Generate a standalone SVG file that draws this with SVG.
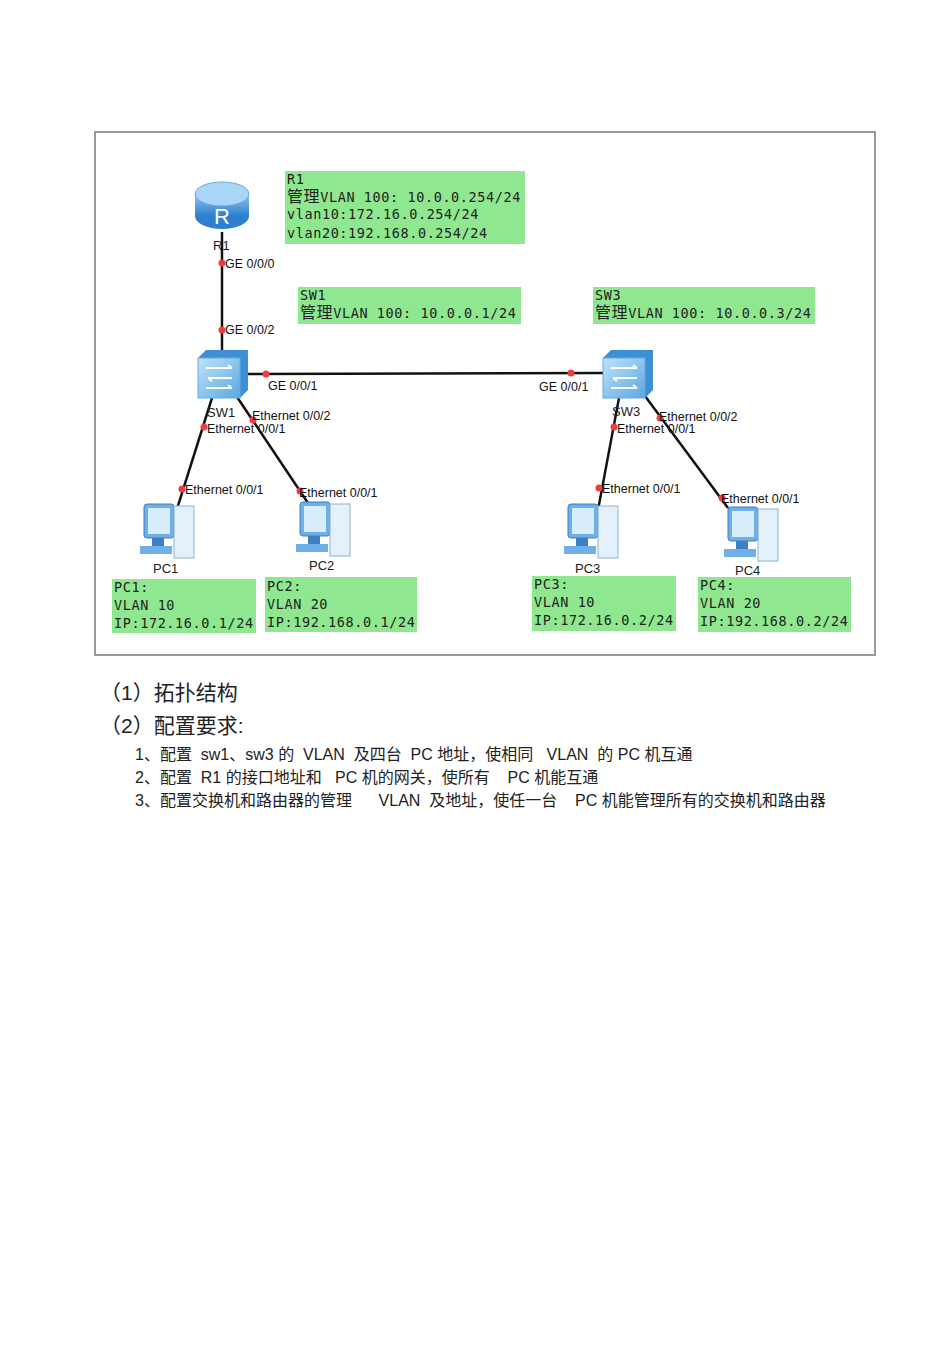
<svg xmlns="http://www.w3.org/2000/svg" width="950" height="1345" viewBox="0 0 950 1345">
<defs>
<style>
.box{fill:#8fe88f}
.m{font-family:"DejaVu Sans Mono","Noto Sans CJK SC",monospace;font-size:13.5px;fill:#222;letter-spacing:0.6px}
.lb{font-family:"Liberation Sans",Arial,sans-serif;font-size:12.5px;fill:#111}
.nm{font-family:"Liberation Sans",Arial,sans-serif;font-size:13px;fill:#222}
.ln{stroke:#111;stroke-width:2.5;fill:none}
.dot{fill:#f03c3c}
.t{font-family:"Liberation Sans","Noto Sans CJK SC",sans-serif;fill:#222}
</style>
<linearGradient id="sw" x1="0" y1="0" x2="1" y2="1"><stop offset="0" stop-color="#bfe3fa"/><stop offset="1" stop-color="#5aa8e0"/></linearGradient>
<linearGradient id="rt" x1="0" y1="0" x2="0" y2="1"><stop offset="0" stop-color="#8cc8f5"/><stop offset="1" stop-color="#2e7fd0"/></linearGradient>
<g id="pc">
<rect x="-22" y="-26" width="30" height="34" rx="3" fill="#6fb0e8" stroke="#3d7fc0"/>
<rect x="-18" y="-22" width="22" height="26" fill="#d8eefc"/>
<rect x="8" y="-24" width="20" height="52" fill="#e4f1fb" stroke="#8ab5d8"/>
<rect x="-14" y="8" width="12" height="10" fill="#3d7fc0"/>
<rect x="-26" y="16" width="32" height="8" fill="#6fb0e8"/>
</g>
<g id="switch">
<path d="M-24,-18 L-16,-26 L26,-26 L26,14 L18,22 L-24,22 Z" fill="#3d8fd6"/>
<rect x="-24" y="-18" width="42" height="40" fill="url(#sw)" stroke="#6aa9dc"/>
<path d="M-16,-8 H10 M10,-8 l-4,-3 M-14,2 H10 M-14,2 l4,3 M-16,12 H10 M10,12 l-4,-3" stroke="#fff" stroke-width="2" fill="none"/>
</g>
</defs>
<rect width="950" height="1345" fill="#fff"/>
<rect x="95" y="132" width="780" height="523" fill="#fff" stroke="#999" stroke-width="2"/>

<g id="connectors">
<line class="ln" x1="222" y1="232" x2="222" y2="352"/>
<line class="ln" x1="245" y1="374" x2="604" y2="373"/>
<line class="ln" x1="212" y1="398" x2="176" y2="512"/>
<line class="ln" x1="235" y1="394" x2="308" y2="503"/>
<line class="ln" x1="619" y1="398" x2="598" y2="510"/>
<line class="ln" x1="645" y1="396" x2="728" y2="508"/>
<g>
<circle class="dot" cx="222" cy="263" r="3.5"/><circle class="dot" cx="222" cy="330" r="3.5"/>
<circle class="dot" cx="266" cy="374" r="3.5"/><circle class="dot" cx="571" cy="373" r="3.5"/>
<circle class="dot" cx="204" cy="427" r="3.5"/><circle class="dot" cx="253" cy="420" r="3.5"/>
<circle class="dot" cx="182" cy="489" r="3.5"/><circle class="dot" cx="300" cy="491" r="3.5"/>
<circle class="dot" cx="614" cy="427" r="3.5"/><circle class="dot" cx="660" cy="418" r="3.5"/>
<circle class="dot" cx="599" cy="488" r="3.5"/><circle class="dot" cx="722" cy="498" r="3.5"/>
</g>
<g class="lb">
<text x="225" y="268">GE 0/0/0</text><text x="225" y="334">GE 0/0/2</text>
<text x="268" y="390">GE 0/0/1</text><text x="539" y="391">GE 0/0/1</text>
<text x="207" y="433">Ethernet 0/0/1</text><text x="252" y="420">Ethernet 0/0/2</text>
<text x="185" y="494">Ethernet 0/0/1</text><text x="299" y="497">Ethernet 0/0/1</text>
<text x="617" y="433">Ethernet 0/0/1</text><text x="659" y="421">Ethernet 0/0/2</text>
<text x="602" y="493">Ethernet 0/0/1</text><text x="721" y="503">Ethernet 0/0/1</text>
</g>
</g>

<g id="R1">
<ellipse cx="222" cy="216" rx="27" ry="13" fill="#2e7fd0"/>
<rect x="195" y="194" width="54" height="22" fill="url(#rt)"/>
<ellipse cx="222" cy="194" rx="27" ry="12" fill="#a9d6f7" stroke="#6aa9dc"/>
<text x="222" y="224" text-anchor="middle" font-family="Liberation Sans,sans-serif" font-size="22" fill="#fff">R</text>
<text class="nm" x="213" y="250">R1</text>
</g>
<g id="SW1"><use href="#switch" x="222" y="376"/><text class="nm" x="207" y="417">SW1</text></g>
<g id="SW3"><use href="#switch" x="627" y="376"/><text class="nm" x="612" y="416">SW3</text></g>
<g id="PC1"><use href="#pc" x="166" y="530"/><text class="nm" x="153" y="573">PC1</text></g>
<g id="PC2"><use href="#pc" x="322" y="528"/><text class="nm" x="309" y="570">PC2</text></g>
<g id="PC3"><use href="#pc" x="590" y="530"/><text class="nm" x="575" y="573">PC3</text></g>
<g id="PC4"><use href="#pc" x="750" y="533"/><text class="nm" x="735" y="575">PC4</text></g>

<g id="R1-info"><rect class="box" x="285" y="171" width="240" height="73"/>
<text class="m" x="287" y="184">R1</text>
<text class="m" x="287" y="202"><tspan font-size="16">管理</tspan>VLAN 100: 10.0.0.254/24</text>
<text class="m" x="287" y="219">vlan10:172.16.0.254/24</text>
<text class="m" x="287" y="238">vlan20:192.168.0.254/24</text></g>
<g id="SW1-info"><rect class="box" x="298" y="287" width="223" height="37"/>
<text class="m" x="300" y="300">SW1</text>
<text class="m" x="300" y="318"><tspan font-size="16">管理</tspan>VLAN 100: 10.0.0.1/24</text></g>
<g id="SW3-info"><rect class="box" x="593" y="287" width="222" height="37"/>
<text class="m" x="595" y="300">SW3</text>
<text class="m" x="595" y="318"><tspan font-size="16">管理</tspan>VLAN 100: 10.0.0.3/24</text></g>
<g id="PC1-info"><rect class="box" x="112" y="579" width="144" height="54"/>
<text class="m" x="114" y="592">PC1:</text><text class="m" x="114" y="610">VLAN 10</text><text class="m" x="114" y="628">IP:172.16.0.1/24</text></g>
<g id="PC2-info"><rect class="box" x="265" y="577" width="152" height="55"/>
<text class="m" x="267" y="591">PC2:</text><text class="m" x="267" y="609">VLAN 20</text><text class="m" x="267" y="627">IP:192.168.0.1/24</text></g>
<g id="PC3-info"><rect class="box" x="532" y="576" width="144" height="55"/>
<text class="m" x="534" y="589">PC3:</text><text class="m" x="534" y="607">VLAN 10</text><text class="m" x="534" y="625">IP:172.16.0.2/24</text></g>
<g id="PC4-info"><rect class="box" x="698" y="577" width="153" height="55"/>
<text class="m" x="700" y="590">PC4:</text><text class="m" x="700" y="608">VLAN 20</text><text class="m" x="700" y="626">IP:192.168.0.2/24</text></g>

<g id="text">
<text class="t" x="100" y="700" font-size="21">（1）拓扑结构</text>
<text class="t" x="100" y="733" font-size="21">（2）配置要求:</text>
<text class="t" x="135" y="760" font-size="16" xml:space="preserve">1、配置  sw1、sw3 的  VLAN  及四台  PC 地址，使相同   VLAN  的 PC 机互通</text>
<text class="t" x="135" y="783" font-size="16" xml:space="preserve">2、配置  R1 的接口地址和   PC 机的网关，使所有    PC 机能互通</text>
<text class="t" x="135" y="806" font-size="16" xml:space="preserve">3、配置交换机和路由器的管理      VLAN  及地址，使任一台    PC 机能管理所有的交换机和路由器</text>
</g>
</svg>
